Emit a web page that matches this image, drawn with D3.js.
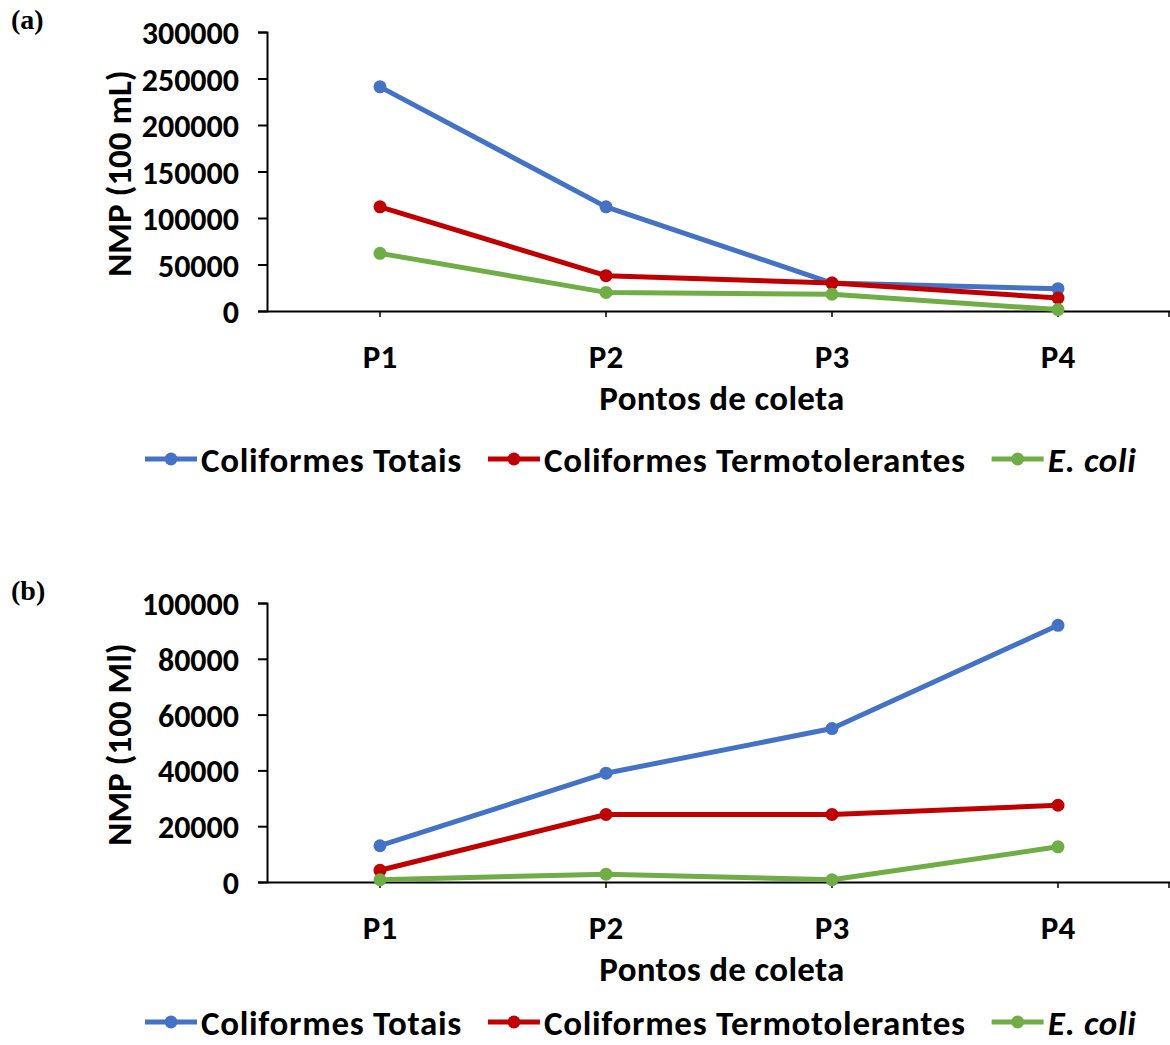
<!DOCTYPE html>
<meta charset="utf-8">
<script src="https://d3js.org/d3.v7.min.js"></script>
<style>
  body { margin: 0; background: #fff; }
  text { font-family: Carlito, Calibri, Lato, sans-serif; font-weight: 700; fill: #000; }
</style>
<div id="chart"></div>
<script>

// data
var points = ["P1", "P2", "P3", "P4"];
var seriesNames = ["Coliformes Totais", "Coliformes Termotolerantes", "E. coli"];
var colors = ["#4472C4", "#C00000", "#70AD47"];

// panel (a)
var totaisA = [241000, 112000, 30000, 24000];
var termoA = [112000, 38000, 30000, 14000];
var coliA = [62000, 20000, 18000, 1500];
var ticksA = [0, 50000, 100000, 150000, 200000, 250000, 300000];

// panel (b)
var totaisB = [13000, 39000, 55000, 92000];
var termoB = [4200, 24200, 24200, 27500];
var coliB = [800, 2800, 800, 12600];
var ticksB = [0, 20000, 40000, 60000, 80000, 100000];

var svg = d3.select("#chart")
  .append("svg")
    .attr("width", 1170)
    .attr("height", 1045);

function drawPanel(opts) {
  var left = 267, right = 1171;
  var g = svg.append("g");

  var x = d3.scaleBand()
    .domain(points)
    .range([left, right]);

  var y = d3.scaleLinear()
    .domain([0, opts.ticks[opts.ticks.length - 1]])
    .range([opts.bottom, opts.top]);

  function cx(i) { return x(points[i]) + x.bandwidth() / 2; }

  // panel letter
  g.append("text")
    .attr("x", 11)
    .attr("y", opts.top - 3)
    .style("font-family", "'Liberation Serif', 'Times New Roman', serif")
    .style("font-size", "28px")
    .text(opts.letter);

  // y axis
  var yAxis = g.append("g")
    .attr("transform", "translate(" + left + ",0)")
    .call(d3.axisLeft(y).tickValues(opts.ticks).tickSize(9).tickPadding(19).tickFormat(d3.format("d")));
  yAxis.selectAll("path, line").attr("stroke", "#000").attr("stroke-width", 2);
  yAxis.selectAll("text").style("font-size", "32px").attr("dy", "0.36em");

  // x axis
  var xAxis = g.append("g")
    .attr("transform", "translate(0," + opts.bottom + ")")
    .call(d3.axisBottom(x).tickSize(0).tickSizeOuter(0));
  xAxis.select(".domain").attr("stroke", "#000").attr("stroke-width", 2);
  xAxis.selectAll("text")
    .style("font-size", "33px")
    .attr("y", 57)
    .attr("dy", 0);
  // tick marks at each category and at the far end
  g.selectAll(".xtick")
    .data(points.map(function(p, i) { return cx(i); }).concat([right - 2]))
    .enter()
    .append("line")
      .attr("x1", function(d) { return d; })
      .attr("x2", function(d) { return d; })
      .attr("y1", opts.bottom)
      .attr("y2", opts.bottom + 6)
      .attr("stroke", "#000")
      .attr("stroke-width", 1.5);

  // axis titles
  g.append("text")
    .attr("transform", "translate(131," + ((opts.top + opts.bottom) / 2 + 2) + ") rotate(-90)")
    .attr("text-anchor", "middle")
    .style("font-size", "35px")
    .text(opts.yTitle);

  g.append("text")
    .attr("x", 722)
    .attr("y", opts.bottom + 99)
    .attr("text-anchor", "middle")
    .style("font-size", "35px")
    .style("letter-spacing", "0.3px")
    .text("Pontos de coleta");

  // lines + markers
  var line = d3.line()
    .x(function(d, i) { return cx(i); })
    .y(function(d) { return y(d); });

  opts.series.forEach(function(vals, k) {
    g.append("path")
      .datum(vals)
      .attr("fill", "none")
      .attr("stroke", colors[k])
      .attr("stroke-width", 5)
      .attr("stroke-linejoin", "round")
      .attr("d", line);
    g.selectAll(".dot" + k)
      .data(vals)
      .enter()
      .append("circle")
        .attr("cx", function(d, i) { return cx(i); })
        .attr("cy", function(d) { return y(d); })
        .attr("r", 6.5)
        .attr("fill", colors[k]);
  });

  // legend
  var ly = opts.bottom + opts.legendOffset;
  var lx = 145;
  seriesNames.forEach(function(name, k) {
    var item = g.append("g");
    item.append("line")
      .attr("x1", lx).attr("x2", lx + 52)
      .attr("y1", ly).attr("y2", ly)
      .attr("stroke", colors[k])
      .attr("stroke-width", 5);
    item.append("circle")
      .attr("cx", lx + 26).attr("cy", ly).attr("r", 6.5)
      .attr("fill", colors[k]);
    var t = item.append("text")
      .attr("x", lx + 56)
      .attr("y", ly)
      .attr("dy", "0.36em")
      .style("font-size", "35px")
      .style("letter-spacing", "0.7px")
      .style("font-style", k === 2 ? "italic" : "normal")
      .text(name);
    lx = lx + 56 + t.node().getComputedTextLength() + 26;
  });
}

drawPanel({
  letter: "(a)", top: 32, bottom: 311, ticks: ticksA, legendOffset: 148,
  yTitle: "NMP (100 mL)", series: [totaisA, termoA, coliA]
});

drawPanel({
  letter: "(b)", top: 603, bottom: 882, ticks: ticksB, legendOffset: 140,
  yTitle: "NMP (100 Ml)", series: [totaisB, termoB, coliB]
});

</script>
